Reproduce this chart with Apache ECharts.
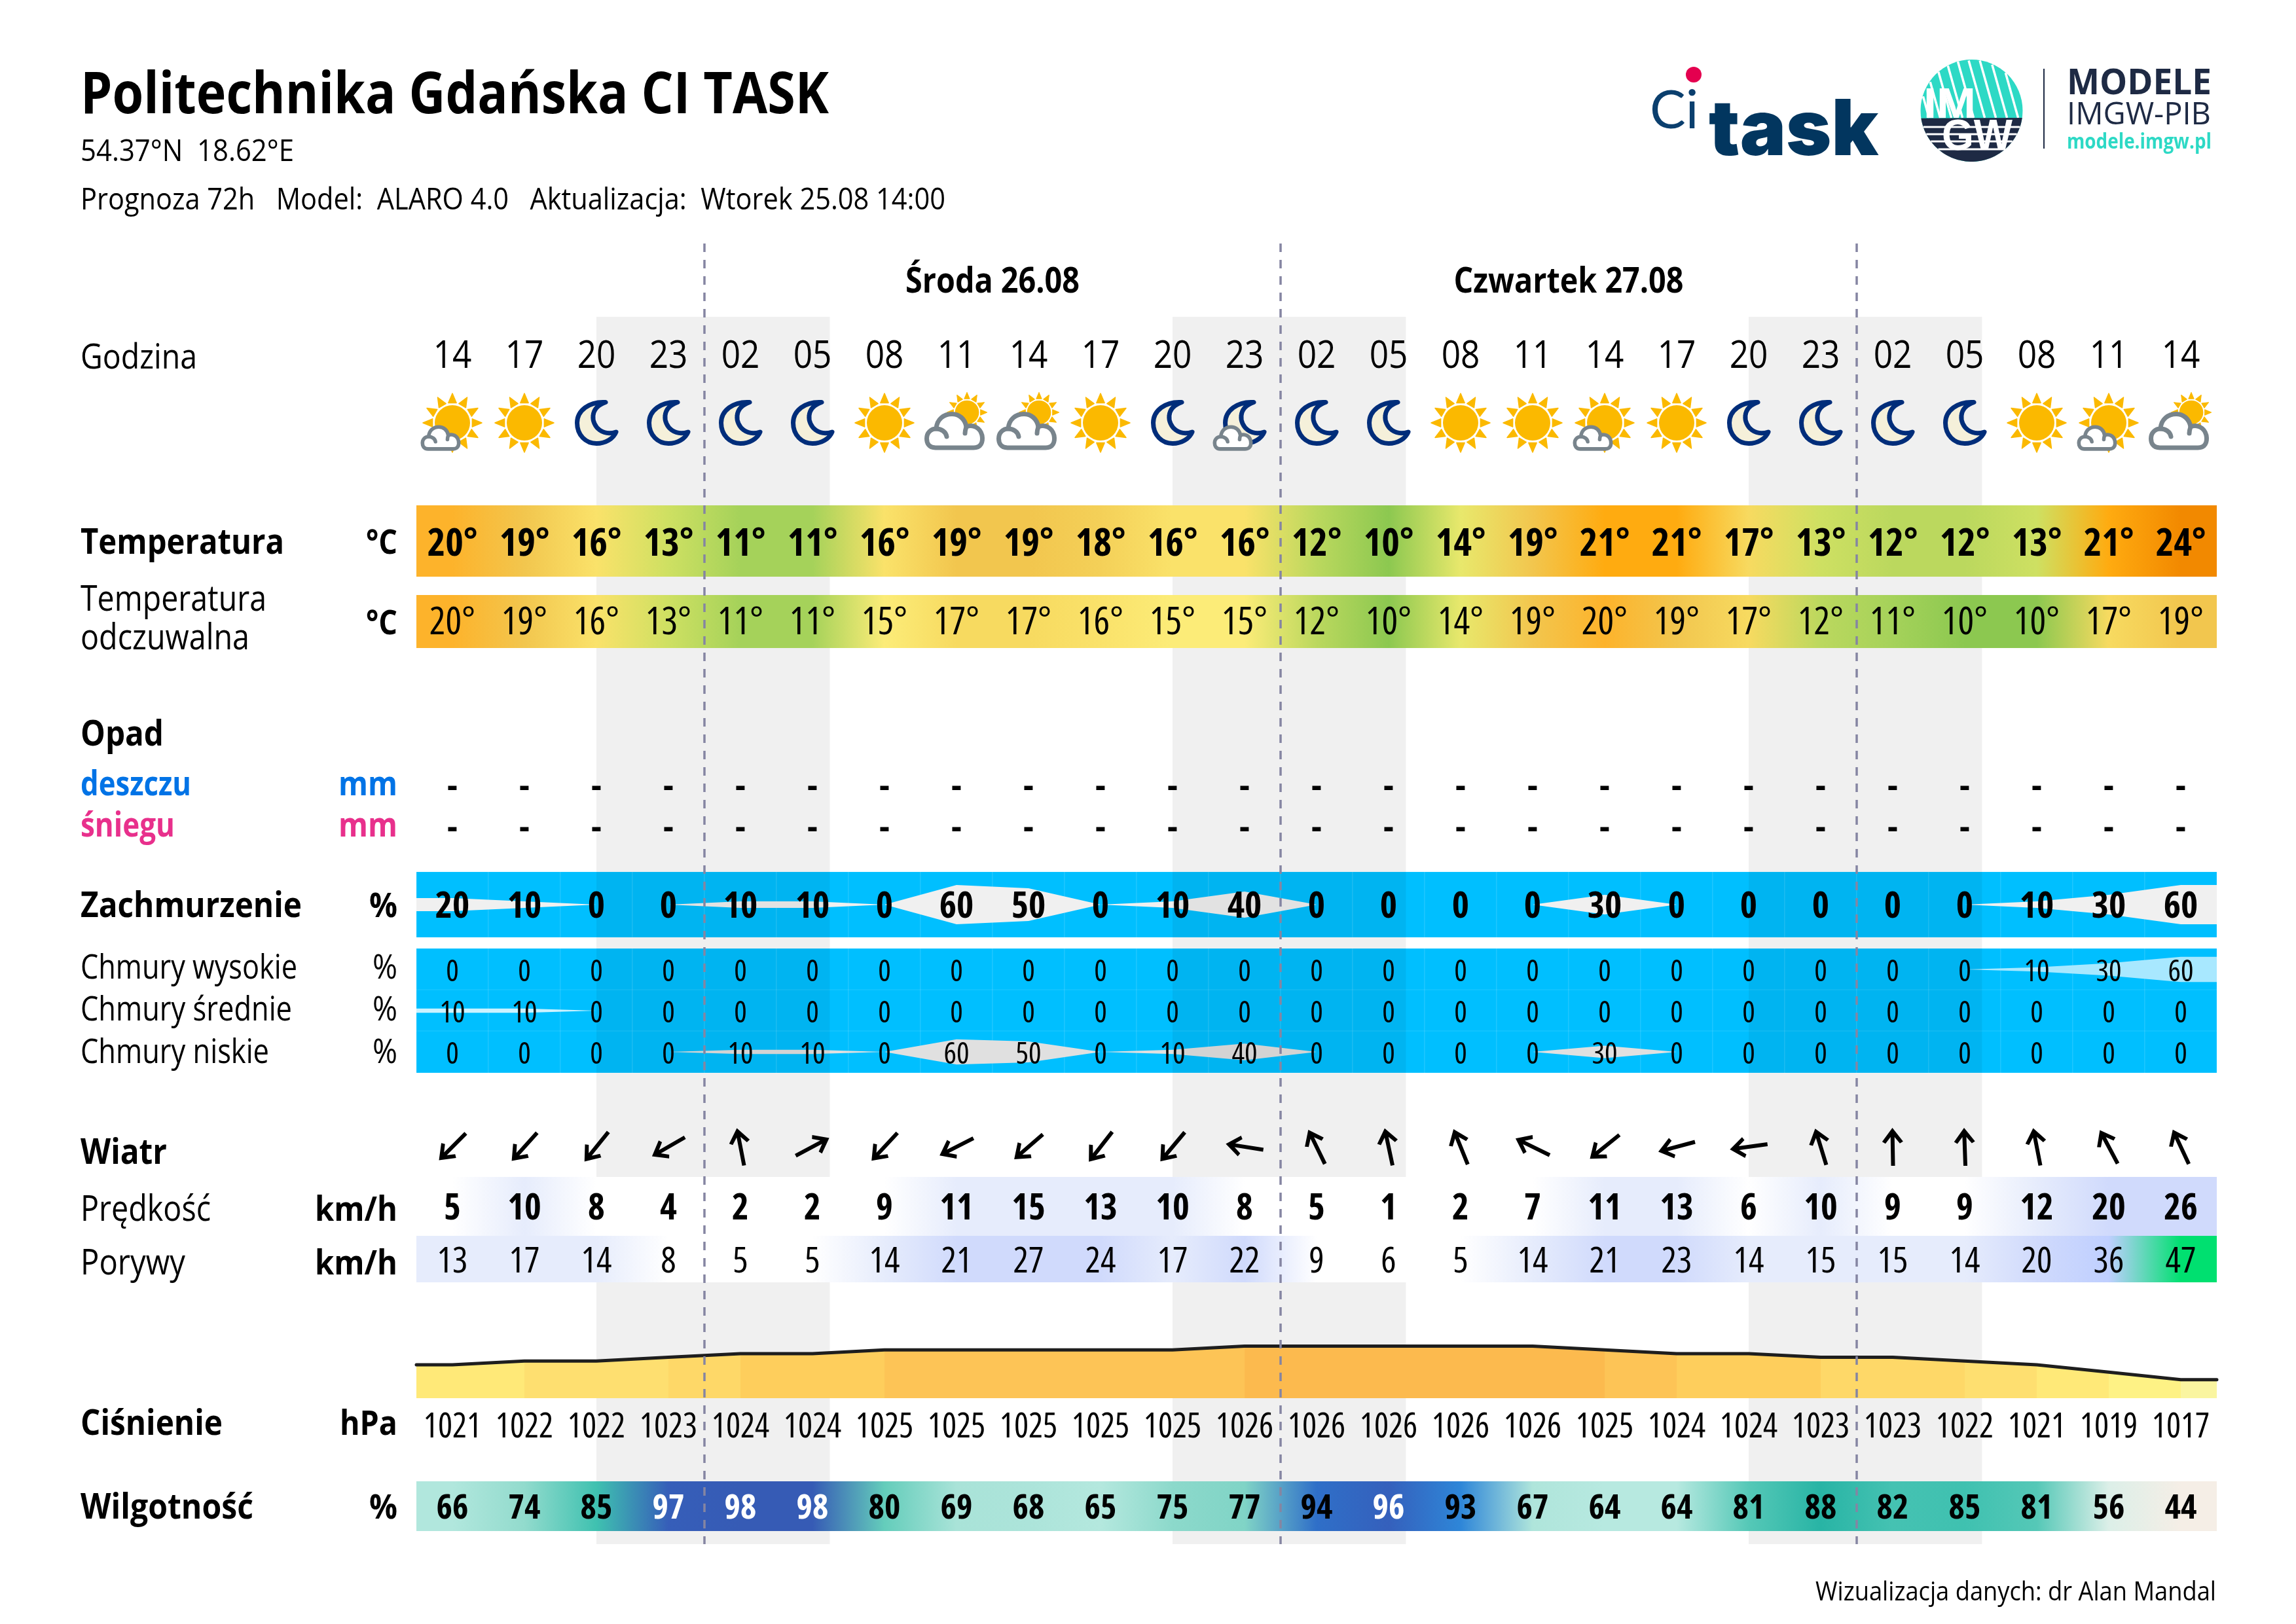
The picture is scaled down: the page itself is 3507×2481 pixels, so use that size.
<!DOCTYPE html>
<html><head><meta charset="utf-8">
<style>html,body{margin:0;padding:0;background:#fff}#c{width:3507px;height:2481px}</style>
<script src="https://cdn.jsdelivr.net/npm/echarts@6/dist/echarts.min.js"></script>
</head><body><div id="c"></div>
<script>
// ---------- data ----------
const hours = ['14','17','20','23','02','05','08','11','14','17','20','23','02','05','08','11','14','17','20','23','02','05','08','11','14'];
const icons = ['sunS','sun','moon','moon','moon','moon','sun','cloudB','cloudB','sun','moon','moonS','moon','moon','sun','sun','sunS','sun','moon','moon','moon','moon','sun','sunS','cloudB'];
const dayLabels = ['Środa 26.08','Czwartek 27.08'];
const dayPos = [7.5,15.5];
const dayLines = [3.5,11.5,19.5];
const nights = [[2,5.24],[10,13.24],[18,21.24]];
const temperature = [20,19,16,13,11,11,16,19,19,18,16,16,12,10,14,19,21,21,17,13,12,12,13,21,24];
const feelsLike   = [20,19,16,13,11,11,15,17,17,16,15,15,12,10,14,19,20,19,17,12,11,10,10,17,19];
const rain = ['-','-','-','-','-','-','-','-','-','-','-','-','-','-','-','-','-','-','-','-','-','-','-','-','-'];
const snow = ['-','-','-','-','-','-','-','-','-','-','-','-','-','-','-','-','-','-','-','-','-','-','-','-','-'];
const cloudTotal = [20,10,0,0,10,10,0,60,50,0,10,40,0,0,0,0,30,0,0,0,0,0,10,30,60];
const cloudHigh  = [0,0,0,0,0,0,0,0,0,0,0,0,0,0,0,0,0,0,0,0,0,0,10,30,60];
const cloudMid   = [10,10,0,0,0,0,0,0,0,0,0,0,0,0,0,0,0,0,0,0,0,0,0,0,0];
const cloudLow   = [0,0,0,0,10,10,0,60,50,0,10,40,0,0,0,0,30,0,0,0,0,0,0,0,0];
const windDir = [225,222,219,240,349,62,223,243,229,218,220,279,334,348,338,296,231,255,262,343,359,358,349,332,335];
const windSpeed = [5,10,8,4,2,2,9,11,15,13,10,8,5,1,2,7,11,13,6,10,9,9,12,20,26];
const windGust  = [13,17,14,8,5,5,14,21,27,24,17,22,9,6,5,14,21,23,14,15,15,14,20,36,47];
const pressure = [1021,1022,1022,1023,1024,1024,1025,1025,1025,1025,1025,1026,1026,1026,1026,1026,1025,1024,1024,1023,1023,1022,1021,1019,1017];
const humidity = [66,74,85,97,98,98,80,69,68,65,75,77,94,96,93,67,64,64,81,88,82,85,81,56,44];
const humidityWhite = [97,98,96];

const tempScale = [[10,'#8CC850'],[11,'#A5D25A'],[12,'#BBD85E'],[13,'#CEE062'],[14,'#E8E86C'],[15,'#FCEC78'],[16,'#FAE26A'],[17,'#F7DA60'],[18,'#F4D058'],[19,'#F2C64E'],[20,'#FDB32B'],[21,'#FFAB10'],[24,'#F28900']];
const pressScale = [[1017,'#FAF5A0'],[1019,'#FEF285'],[1021,'#FFE978'],[1022,'#FEDF70'],[1023,'#FED868'],[1024,'#FECE5C'],[1025,'#FDC456'],[1026,'#FCBA4E']];
const humScale = [[44,'#F5EEE6'],[56,'#DCEFE8'],[64,'#B7E9E0'],[69,'#A9E3D8'],[74,'#92DBCD'],[77,'#80D4C6'],[80,'#64CDBB'],[82,'#45C2B2'],[85,'#3FC1B0'],[88,'#28B4A5'],[93,'#2E86D8'],[94,'#2F6FC8'],[96,'#3560BC'],[98,'#365BB5']];
const windScale = [[9,'#FFFFFF'],[10,'#E6ECFC'],[19,'#E6ECFC'],[20,'#D0DAFC'],[35,'#CFDAFC'],[36,'#BFCFFF'],[45,'#BFCFFF'],[47,'#00E070']];

// ---------- helpers ----------
const FF = "'Open Sans'";
const COND = 'condensed';
const COLS = hours.length;
const idx = hours.map((_, i) => i);
const mctx = document.createElement('canvas').getContext('2d');
function widthOf(text,font){mctx.font=font;return mctx.measureText(text).width;}
function hex(c){return [1,3,5].map(k=>parseInt(c.substr(k,2),16));}
function scaleColor(scale,v){
  if(v<=scale[0][0])return scale[0][1];
  for(let k=1;k<scale.length;k++){ if(v<=scale[k][0]){
    const a=scale[k-1],b=scale[k],t=(v-a[0])/(b[0]-a[0]),A=hex(a[1]),B=hex(b[1]);
    return 'rgb('+A.map((x,j)=>Math.round(x+(B[j]-x)*t)).join(',')+')';
  }}
  return scale[scale.length-1][1];
}
const grids=[],xAxes=[],yAxes=[],series=[];
function row(top,height,ymin=0,ymax=1){
  grids.push({left:636,width:2750,top,height,containLabel:false});
  const g=grids.length-1;
  xAxes.push({type:'value',gridIndex:g,min:-0.5,max:COLS-0.5,show:false});
  yAxes.push({type:'value',gridIndex:g,min:ymin,max:ymax,show:false});
  return g;
}
function textSeries(g,names,size,weight,opt={}){
  series.push({type:'scatter',xAxisIndex:g,yAxisIndex:g,z:10,silent:true,symbolSize:1,
    itemStyle:{color:'rgba(0,0,0,0)',opacity:1},
    data:names.map((n,i)=>({name:String(n),value:[i,0.5],label:opt.colorFn?{color:opt.colorFn(n)}:undefined})),
    label:{show:true,position:'inside',offset:[0,opt.dy===undefined?4.5:opt.dy],formatter:p=>p.name+(opt.suffix||''),fontSize:size,fontWeight:weight,fontStyle:COND,fontFamily:FF,color:'#000',align:'center',verticalAlign:'middle'}});
}
// text that is narrower than the regular face: drawn through the axes, squeezed horizontally
function squeezedText(g,names,pos,size,weight,dy,scaleOf){
  const font=`${weight} ${size}px ${FF}`;
  series.push({type:'custom',xAxisIndex:g,yAxisIndex:g,z:10,silent:true,data:names.map((n,i)=>[pos[i],0.5]),
    renderItem:(p,api)=>{const c=api.coord([api.value(0),api.value(1)]),t=names[p.dataIndex];
      return {type:'text',x:c[0],y:c[1]+dy,scaleX:scaleOf(t,font),style:{text:t,x:0,y:0,font,fill:'#000',align:'center',verticalAlign:'middle',textAlign:'center',textVerticalAlign:'middle'}};}});
}
function gradientBand(g,values,scale){
  const stops=[{offset:0,color:scaleColor(scale,values[0])}];
  values.forEach((v,i)=>stops.push({offset:(i+0.5)/COLS,color:scaleColor(scale,v)}));
  stops.push({offset:1,color:scaleColor(scale,values[COLS-1])});
  const edge=[-0.5].concat(idx,[COLS-0.5]);
  series.push({type:'line',xAxisIndex:g,yAxisIndex:g,z:3,silent:true,symbol:'none',lineStyle:{width:0},
    areaStyle:{opacity:1,color:new echarts.graphic.LinearGradient(0,0,1,0,stops)},
    data:edge.map(x=>[x,1])});
}
function extend(values){return [[-0.5,values[0]]].concat(values.map((v,i)=>[i,v]),[[COLS-0.5,values[COLS-1]]]);}
function cloudBg(g){
  series.push({type:'custom',xAxisIndex:g,yAxisIndex:g,z:2,silent:true,data:idx,
    renderItem:(p,api)=>{const a=api.coord([api.value(0)-0.5,50]),b=api.coord([api.value(0)+0.5,-50]);
      return {type:'rect',shape:{x:a[0],y:a[1],width:b[0]-a[0],height:b[1]-a[1]},style:{fill:'#00BFFF',stroke:'rgba(255,255,255,0.13)',lineWidth:1}};}});
}
function cloudShape(g,values,color){
  const pts=extend(values);
  [1,-1].forEach(sign=>series.push({type:'line',xAxisIndex:g,yAxisIndex:g,z:3,silent:true,symbol:'none',lineStyle:{width:0},
    areaStyle:{opacity:1,color,origin:0},data:pts.map(p=>[p[0],sign*p[1]/2])}));
}
function nightSeries(g,z,fill){
  series.push({type:'custom',xAxisIndex:g,yAxisIndex:g,z,silent:true,data:nights,
    renderItem:(p,api)=>{const a=api.coord([api.value(0),1]),b=api.coord([api.value(1),0]);
      return {type:'rect',shape:{x:a[0],y:a[1],width:b[0]-a[0],height:b[1]-a[1]},style:{fill}};},
    encode:{x:[0,1]}});
}

// ---------- icon geometry ----------
const rayPts=[];
for(let k=0;k<12;k++){const a=k/12*Math.PI*2,w=0.2;
  rayPts.push([[Math.sin(a)*45,-Math.cos(a)*45],[Math.sin(a-w)*31,-Math.cos(a-w)*31],[Math.sin(a+w)*31,-Math.cos(a+w)*31]]);}
function sun(x,y,s){return {type:'group',x,y,scaleX:s,scaleY:s,children:[{type:'circle',shape:{cx:0,cy:0,r:27},style:{fill:'#FBB900'}}].concat(rayPts.map(p=>({type:'polygon',shape:{points:p},style:{fill:'#FBB900',stroke:'#FBB900',lineWidth:1.5,lineJoin:'round'}})))};}
const moonPath='M47 4.5C22 3 3.5 17 3.5 36C3.5 55 17 67.5 33 67.5C47 67.5 59 60 63 50C54 53 45 52 38 47C31 42 27 33 28 25C29 14 37 8 47 4.5Z';
function moon(x,y){return {type:'group',x,y,children:[{type:'path',shape:{pathData:moonPath},style:{fill:'#F5F0DA',stroke:'#002D7A',lineWidth:7,lineJoin:'round'}}]};}
const cloudPath='M17 55C6 55 3.5 47 3.5 41C3.5 32 10 26 18 26C19 11 30 3.5 42 3.5C53 3.5 62 11 64 23C74 19 85 24 88 36C90 47 86 55 75 55Z';
const cloudInner='M18 26C26 26 33 31 34 38M64 23C63 26 62 29 62 33';
function cloud(x,y,s,lw){return {type:'group',x,y,scaleX:s,scaleY:s,children:[
  {type:'path',shape:{pathData:cloudPath},style:{fill:'#fff',stroke:'#78848C',lineWidth:lw,lineJoin:'round'}},
  {type:'path',shape:{pathData:cloudInner},style:{fill:'none',stroke:'#78848C',lineWidth:lw,lineCap:'round'}}]};}
function iconGroup(kind,cx,cy){
  const ch=[];
  if(kind==='sun')ch.push(sun(0,0,1));
  if(kind==='sunS'){ch.push(sun(0,0,1));ch.push(cloud(-48,4,0.652,8.5));}
  if(kind==='moon')ch.push(moon(-33,-36));
  if(kind==='moonS'){ch.push(moon(-33,-36));ch.push(cloud(-48,4,0.652,8.5));}
  if(kind==='cloudB'){ch.push(sun(16,-16,0.68));ch.push(cloud(-49,-17,1,7));}
  return {type:'group',x:cx,y:cy,children:ch};
}

// ---------- rows ----------
const gNight=row(484,1875);            nightSeries(gNight,0,'#F0F0F0');
const gDash=row(372,1987);
series.push({type:'custom',xAxisIndex:gDash,yAxisIndex:gDash,z:8,silent:true,data:dayLines,
  renderItem:(p,api)=>{const a=api.coord([api.value(0),1]),b=api.coord([api.value(0),0]);
    return {type:'line',shape:{x1:a[0],y1:a[1],x2:b[0],y2:b[1]},style:{stroke:'#8585A2',lineWidth:3.5,lineDash:[13,12]}};}});

squeezedText(row(397,60),dayLabels,dayPos,53,'bold',5,(t,f)=>({'Środa 26.08':266,'Czwartek 27.08':351}[t])/widthOf(t,f));
squeezedText(row(510,60),hours,idx,59,'normal',5,()=>0.87);

const gIcon=row(596,100);
series.push({type:'custom',xAxisIndex:gIcon,yAxisIndex:gIcon,z:5,silent:true,data:icons.map((k,i)=>[i,0.5]),
  renderItem:(p,api)=>{const c=api.coord([api.value(0),api.value(1)]);return iconGroup(icons[p.dataIndex],c[0],c[1]);}});

const gT=row(772,109); gradientBand(gT,temperature,tempScale); textSeries(gT,temperature,59,'bold',{suffix:'°',dy:6});
const gF=row(909,81);  gradientBand(gF,feelsLike,tempScale);   textSeries(gF,feelsLike,58,'normal',{suffix:'°',dy:3});

textSeries(row(1174,50),rain,52,'bold');
textSeries(row(1237,50),snow,52,'bold');

const gC=row(1332,100,-50,50); cloudBg(gC); cloudShape(gC,cloudTotal,'#F0F0F0');
const gCh=row(1449,64,-50,50); cloudBg(gCh); cloudShape(gCh,cloudHigh,'#A8E8FF');
const gCm=row(1512,64,-50,50); cloudBg(gCm); cloudShape(gCm,cloudMid,'#CCF2FF');
const gCl=row(1575,64,-50,50); cloudBg(gCl); cloudShape(gCl,cloudLow,'#E0E0E0');
{const a=row(1332,100);nightSeries(a,4,'rgba(0,0,0,0.055)');textSeries(a,cloudTotal,56,'bold');}
{const a=row(1449,190);nightSeries(a,4,'rgba(0,0,0,0.055)');}
textSeries(row(1449,64),cloudHigh,46,'normal');
textSeries(row(1512,64),cloudMid,46,'normal');
textSeries(row(1575,64),cloudLow,46,'normal');

const gW=row(1722,60);
series.push({type:'scatter',xAxisIndex:gW,yAxisIndex:gW,z:6,silent:true,
  symbol:'path://M16 0L32 21L27 24L19 14L19 58L13 58L13 14L5 24L0 21Z',symbolSize:[32,58],
  itemStyle:{color:'#000',opacity:1},
  data:windDir.map((d,i)=>({value:[i,0.5],symbolRotate:-d}))});

const gS=row(1798,90);  gradientBand(gS,windSpeed,windScale); textSeries(gS,windSpeed,55,'bold');
const gG=row(1888,71);  gradientBand(gG,windGust,windScale);  textSeries(gG,windGust,55,'normal');

const gP=row(2056.6,79.4,1012,1026);
const pStops=[];
pressure.forEach((v,i)=>{const c=scaleColor(pressScale,v);const s=i===0?0:(i+0.5)/COLS;const e=i===COLS-1?1:(i+1.5)/COLS;pStops.push({offset:s,color:c},{offset:e,color:c});});
series.push({type:'line',xAxisIndex:gP,yAxisIndex:gP,z:4,silent:true,symbol:'none',clip:false,
  lineStyle:{color:'#1E1E1E',width:5,cap:'round',join:'round'},
  areaStyle:{opacity:1,origin:'start',color:new echarts.graphic.LinearGradient(0,0,1,0,pStops)},
  data:extend(pressure)});
textSeries(row(2147,60),pressure,52,'normal');

const gH=row(2263,76); gradientBand(gH,humidity,humScale);
textSeries(gH,humidity,52,'bold',{colorFn:v=>humidityWhite.includes(Number(v))?'#fff':'#000'});

// ---------- static text and logos ----------
const els=[];
// w = width the text has in the picture; the regular face is squeezed to it
function txt(text,x,base,size,weight,w,opt={}){
  const font=`${weight} ${size}px ${opt.family||FF}`;
  const sx=w?w/widthOf(text,font):1;
  els.push({type:'text',silent:true,z:20,x,y:base-0.27*size,scaleX:sx,originX:0,originY:0,
    style:{text,x:0,y:0,fill:opt.color||'#000',align:opt.align||'left',verticalAlign:'middle',textAlign:opt.align||'left',textVerticalAlign:'middle',font}});
}
const LX0=123, RX=607, R={align:'right'};
txt('Politechnika Gdańska CI TASK',LX0,172,88,'bold',1143);
txt('54.37°N  18.62°E',LX0,245,46,'normal',326);
txt('Prognoza 72h   Model:  ALARO 4.0   Aktualizacja:  Wtorek 25.08 14:00',LX0,319,46,'normal',1321);
txt('Godzina',LX0,562,53,'normal',178);
txt('Temperatura',LX0,845,53,'bold',311); txt('°C',RX,845,52,'bold',48,R);
txt('Temperatura',LX0,932,54,'normal',284); txt('odczuwalna',LX0,991,54,'normal',258); txt('°C',RX,968,52,'bold',48,R);
txt('Opad',LX0,1138,54,'bold',127);
txt('deszczu',LX0,1214,52,'bold',169,{color:'#0073E6'}); txt('mm',RX,1214,52,'bold',90,{color:'#0073E6',align:'right'});
txt('śniegu',LX0,1277,52,'bold',144,{color:'#E8308C'}); txt('mm',RX,1277,52,'bold',90,{color:'#E8308C',align:'right'});
txt('Zachmurzenie',LX0,1400,54,'bold',338); txt('%',RX,1400,52,'bold',43,R);
txt('Chmury wysokie',LX0,1494,51,'normal',331); txt('%',RX,1494,51,'normal',38,R);
txt('Chmury średnie',LX0,1558,51,'normal',323); txt('%',RX,1558,51,'normal',38,R);
txt('Chmury niskie',LX0,1623,51,'normal',288); txt('%',RX,1623,51,'normal',38,R);
txt('Wiatr',LX0,1777,53,'bold',132);
txt('Prędkość',LX0,1864,54,'normal',199); txt('km/h',RX,1864,52,'bold',126,R);
txt('Porywy',LX0,1946,54,'normal',160); txt('km/h',RX,1946,52,'bold',126,R);
txt('Ciśnienie',LX0,2191,53,'bold',217); txt('hPa',RX,2191,52,'bold',88,R);
txt('Wilgotność',LX0,2319,53,'bold',264); txt('%',RX,2319,52,'bold',43,R);
txt('Wizualizacja danych: dr Alan Mandal',3385,2444,40,'normal',612,R);

// CI TASK logo
txt('Ci',2520,192,82,'normal',0,{color:'#0B3F6E',family:"Lato"});
els.push({type:'circle',silent:true,shape:{cx:2587,cy:114,r:12},style:{fill:'#E4004F'}});
txt('task',2610,233,118,'900',0,{color:'#02365F',family:"Inter"});
// IMGW logo
const LX=3011.5,LY=169,LR=78,SPLIT=180;
els.push({type:'circle',silent:true,shape:{cx:LX,cy:LY,r:LR},style:{fill:'#2DD9C5'}});
for(let k=-9;k<=9;k++){
  const dx=k*17, pts=[];
  for(let t=-1;t<=1;t+=0.02){const x=LX+dx+t*LR*0.28,y=LY+t*LR; if(y<SPLIT && (x-LX)**2+(y-LY)**2<LR*LR)pts.push([x,y]);}
  if(pts.length>1)els.push({type:'polyline',silent:true,shape:{points:pts},style:{stroke:'#fff',lineWidth:3.5,fill:'none'}});
}
{const pts=[];const a0=Math.asin((SPLIT-LY)/LR);for(let t=a0;t<=Math.PI-a0+1e-6;t+=0.05)pts.push([LX+LR*Math.cos(t),LY+LR*Math.sin(t)]);
 els.push({type:'polygon',silent:true,shape:{points:pts},style:{fill:'#1E2A44'}});}
[194,205,216,228].forEach(y=>{const h=Math.sqrt(LR*LR-(y-LY)*(y-LY));els.push({type:'line',silent:true,shape:{x1:LX-h,y1:y,x2:LX+h,y2:y},style:{stroke:'#fff',lineWidth:3}});});
txt('IM',2938,180,64,'bold',80,{color:'#fff',family:"'Liberation Sans'"});
txt('GW',2966,229,66,'bold',108,{color:'#fff',family:"'Liberation Sans'"});
els.push({type:'line',silent:true,shape:{x1:3122,y1:105,x2:3122,y2:227},style:{stroke:'#1E2A44',lineWidth:2}});
txt('MODELE',3157,143,53,'bold',221,{color:'#1E2A44'});
txt('IMGW-PIB',3157,189,47,'normal',220,{color:'#1E2A44'});
txt('modele.imgw.pl',3157,227,32,'bold',221,{color:'#2DD9C5'});

const chart=echarts.init(document.getElementById('c'),null,{renderer:'canvas',width:3507,height:2481});
chart.setOption({
  animation:false,backgroundColor:'#fff',
  tooltip:{show:false},legend:{show:false},
  grid:grids,xAxis:xAxes,yAxis:yAxes,series,graphic:{elements:els}
});
</script></body></html>
